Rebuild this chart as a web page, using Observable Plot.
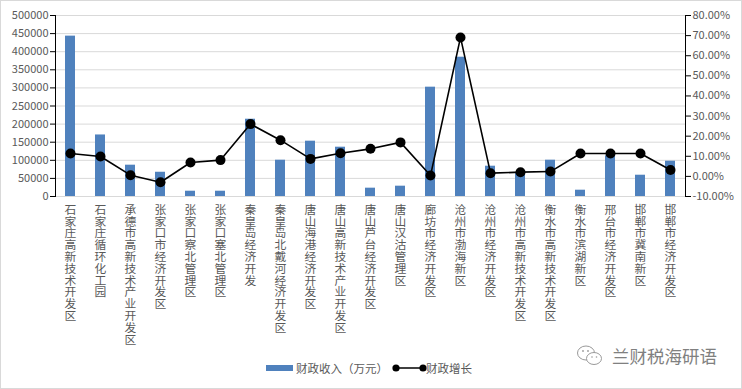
<!DOCTYPE html>
<html>
<head>
<meta charset="utf-8">
<script src="https://cdn.jsdelivr.net/npm/d3@7"></script>
<script src="https://cdn.jsdelivr.net/npm/@observablehq/plot@0.6"></script>
<style>
  html, body { margin: 0; padding: 0; background: #fff; }
  #wrap { position: relative; width: 742px; height: 389px; overflow: hidden; font-family: "Noto Sans CJK SC", "Noto Sans", sans-serif; }
  #chart { position: absolute; left: 0; top: 0; }
  #border { position: absolute; left: 0; top: 0; right: 0; bottom: 0; border: 1px solid #d9d9d9; pointer-events: none; }
  .leg { position: absolute; color: #595959; font-size: 11.5px; line-height: 14px; white-space: nowrap; }
  #wm { position: absolute; left: 612px; top: 343px; font-size: 17.5px; color: #808080; white-space: nowrap; }
</style>
</head>
<body>
<div id="wrap">
  <div id="chart"></div>
  <div id="legend"></div>
  <div id="border"></div>
</div>
<script>
const categories = [
  "石家庄高新技术开发区", "石家庄循环化工园", "承德市高新技术产业开发区", "张家口市经济开发区",
  "张家口察北管理区", "张家口塞北管理区", "秦皇岛经济开发", "秦皇岛北戴河经济开发区",
  "唐山海港经济开发区", "唐山高新技术产业开发区", "唐山芦台经济开发区", "唐山汉沽管理区",
  "廊坊市经济开发区", "沧州市渤海新区", "沧州市经济开发区", "沧州市高新技术开发区",
  "衡水市高新技术开发区", "衡水市滨湖新区", "邢台市经济开发区", "邯郸市冀南新区", "邯郸市经济开发区"
];
const revenue = [443000, 170000, 86500, 67000, 14600, 14600, 213500, 100300, 152800, 136200, 23000,
  28500, 302000, 384800, 83700, 64000, 100300, 17400, 112200, 58800, 97500];
const growth = [0.114, 0.099, 0.006, -0.029, 0.069, 0.081, 0.260, 0.180, 0.087, 0.115, 0.137,
  0.169, 0.004, 0.691, 0.016, 0.021, 0.024, 0.114, 0.114, 0.114, 0.032];
const leftTicks = [0, 50000, 100000, 150000, 200000, 250000, 300000, 350000, 400000, 450000, 500000];
const rightTicks = [-0.1, 0, 0.1, 0.2, 0.3, 0.4, 0.5, 0.6, 0.7, 0.8];
const seriesNames = ["财政收入（万元）", "财政增长"];
const watermark = "兰财税海研语";

const barColor = "#4f81bd";
const leftMax = 500000, rMin = -0.1, rMax = 0.8;
const toLeft = p => (p - rMin) / (rMax - rMin) * leftMax;
const fromLeft = v => v / leftMax * (rMax - rMin) + rMin;

const data = categories.map((c, i) => ({c, rev: revenue[i], g: growth[i]}));

const chart = Plot.plot({
  width: 742,
  height: 352,
  marginTop: 15,
  marginBottom: 156,
  marginLeft: 55,
  marginRight: 57,
  style: {fontFamily: "'Noto Sans CJK SC', 'Noto Sans', sans-serif", background: "transparent"},
  x: {domain: categories, paddingInner: 2/3, paddingOuter: 1/3},
  y: {domain: [0, leftMax]},
  marks: [
    Plot.ruleY(leftTicks, {stroke: "#d9d9d9", strokeWidth: 1}),
    Plot.barY(data, {x: "c", y: "rev", fill: barColor}),
    Plot.line(data, {x: "c", y: d => toLeft(d.g), stroke: "black", strokeWidth: 1.6}),
    Plot.dot(data, {x: "c", y: d => toLeft(d.g), r: 5, fill: "black", stroke: "none"}),
    Plot.axisY(leftTicks, {anchor: "left", tickSize: 5, tickPadding: 2, stroke: "black",
      tickFormat: d => String(d), fill: "#595959", fontSize: 11, label: null}),
    Plot.axisY(rightTicks.map(toLeft), {anchor: "right", tickSize: 5, tickPadding: 2, stroke: "black",
      tickFormat: v => (fromLeft(v) * 100).toFixed(2) + "%", fill: "#595959", fontSize: 11, label: null}),
    Plot.frame({anchor: "left", stroke: "black"}),
    Plot.frame({anchor: "right", stroke: "black"}),
    Plot.axisX({tickSize: 0, tickPadding: 9, tickFormat: d => d.split("").join("\n"),
      lineHeight: 1, fontSize: 11.8, fill: "#595959", label: null})
  ]
});
document.getElementById("chart").appendChild(chart);

// Legend (HTML)
const leg = document.getElementById("legend");
leg.innerHTML = `
  <div style="position:absolute;left:266px;top:365px;width:27px;height:6px;background:${barColor}"></div>
  <div class="leg" style="left:296px;top:361px">${seriesNames[0]}</div>
  <svg style="position:absolute;left:390px;top:362px" width="40" height="12">
    <line x1="6" y1="6" x2="33" y2="6" stroke="black" stroke-width="1.5"/>
    <circle cx="6" cy="6" r="3.6" fill="black"/>
    <circle cx="33" cy="6" r="3.6" fill="black"/>
  </svg>
  <div class="leg" style="left:426px;top:361px">${seriesNames[1]}</div>
  <svg style="position:absolute;left:576px;top:344px" width="30" height="24">
    <ellipse cx="10" cy="9" rx="8.5" ry="7" fill="none" stroke="#9a9a9a" stroke-width="1"/>
    <ellipse cx="18" cy="14.5" rx="7.5" ry="6" fill="white" stroke="#9a9a9a" stroke-width="1"/>
    <circle cx="7" cy="7" r="0.9" fill="#9a9a9a"/><circle cx="12" cy="7" r="0.9" fill="#9a9a9a"/>
    <circle cx="16" cy="13" r="0.8" fill="#9a9a9a"/><circle cx="20.5" cy="13" r="0.8" fill="#9a9a9a"/>
  </svg>
  <div id="wm">${watermark}</div>
`;
</script>
</body>
</html>
